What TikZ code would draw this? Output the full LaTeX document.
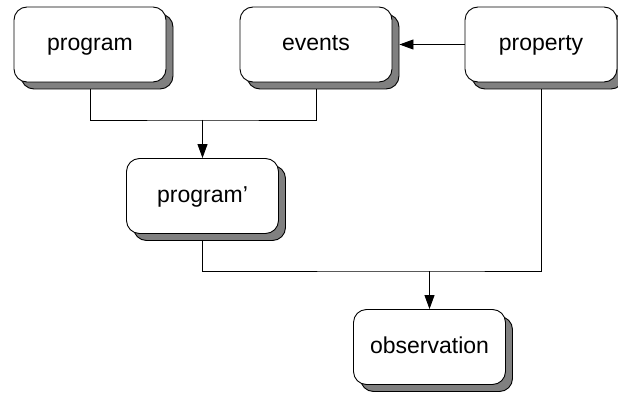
\documentclass[tikz,border=0pt]{standalone}
\usepackage{fontspec}
\setmainfont{Liberation Sans}
\usetikzlibrary{arrows.meta,shadows}
\begin{document}
\begin{tikzpicture}[x=1pt,y=-1pt,
  box/.style={draw=black, line width=0.9pt, fill=white, rounded corners=13pt,
    minimum width=152pt, minimum height=75pt, inner sep=0pt,
    text height=17pt, text depth=5pt,
    font=\fontsize{23}{26}\selectfont,
    general shadow={shadow xshift=7pt, shadow yshift=-7pt, fill=gray, draw=black, line width=0.9pt}},
  conn/.style={draw=black, line width=0.9pt},
  arr/.style={conn, -{Triangle[length=14pt,width=10pt]}}]
\useasboundingbox (0,0) rectangle (618,393);
\node[box] (program) at (90,44.5) {program};
\node[box] (events) at (316,44.5) {events};
\node[box] (property) at (541,44.5) {property};
\node[box] (progp) at (202.5,196) {program’};
\node[box] (obs) at (429.5,347) {observation};
\coordinate (m1) at (202.5,120);
\coordinate (m2) at (429.5,271);
\draw[conn] ([yshift=-7pt]program.south) |- (m1) -| ([yshift=-7pt]events.south);
\draw[arr] (m1) -- (progp.north);
\draw[arr] (property.west) -- ([xshift=7pt]events.east);
\draw[conn] ([yshift=-7pt]progp.south) |- (m2) -| ([yshift=-7pt]property.south);
\draw[arr] (m2) -- (obs.north);
\end{tikzpicture}
\end{document}
